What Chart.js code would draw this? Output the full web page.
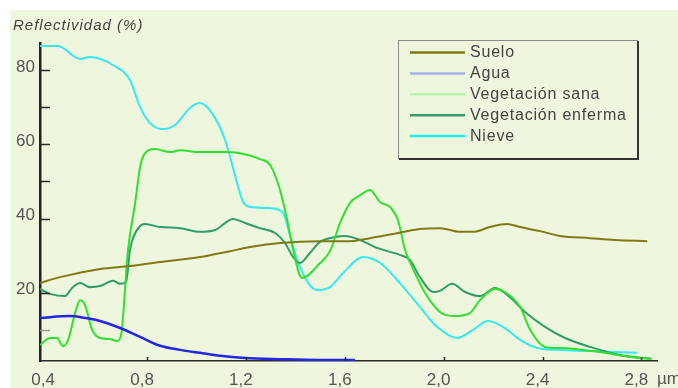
<!DOCTYPE html>
<html lang="es">
<head>
<meta charset="UTF-8">
<title>Reflectividad espectral</title>
<script src="https://cdn.jsdelivr.net/npm/chart.js"></script>
<style>
    body { margin: 0; background: #ffffff; }
    #wrap { width: 678px; height: 388px; }
</style>
</head>
<body>
<div id="wrap"><canvas id="chart" width="678" height="388"></canvas></div>
<script>
// Ticks
const xTicks = [0.4, 0.8, 1.2, 1.6, 2.0, 2.4, 2.8];
const yTicks = [20, 40, 60, 80];
const yMinorTicks = [50, 70];

// Series (wavelength in um, reflectance in %)
const seriesNames = ['Suelo', 'Agua', 'Vegetación sana', 'Vegetación enferma', 'Nieve'];

const sueloX = [0.367, 0.448, 0.610, 0.731, 0.853, 1.014, 1.136, 1.217, 1.338, 1.500, 1.621, 1.702, 1.795, 1.904, 1.985, 2.066, 2.119, 2.187, 2.256, 2.309, 2.390, 2.471, 2.592, 2.693, 2.823];
const sueloY = [22.6, 24.2, 26.4, 27.2, 28.3, 29.6, 31.2, 32.3, 33.4, 33.9, 33.9, 34.7, 35.8, 37.2, 37.4, 36.4, 36.4, 37.7, 38.5, 37.7, 36.6, 35.3, 34.7, 34.2, 33.9];

const aguaX = [0.367, 0.489, 0.549, 0.610, 0.691, 0.772, 0.853, 0.934, 1.014, 1.095, 1.196, 1.338, 1.500, 1.641];
const aguaY = [13.2, 13.7, 13.2, 12.4, 10.5, 8.1, 5.7, 4.6, 3.8, 3.0, 2.4, 2.1, 1.9, 1.9];

const sanaX = [0.367, 0.408, 0.436, 0.460, 0.481, 0.509, 0.529, 0.549, 0.578, 0.610, 0.650, 0.679, 0.695, 0.723, 0.752, 0.772, 0.792, 0.832, 0.893, 0.934, 1.014, 1.116, 1.176, 1.257, 1.298, 1.338, 1.367, 1.391, 1.427, 1.500, 1.540, 1.581, 1.621, 1.662, 1.702, 1.743, 1.783, 1.815, 1.844, 1.884, 1.925, 1.985, 2.046, 2.106, 2.147, 2.208, 2.248, 2.309, 2.350, 2.410, 2.471, 2.633, 2.754, 2.843];
const sanaY = [5.9, 7.8, 7.8, 5.6, 7.3, 14.5, 18.0, 16.7, 10.0, 7.8, 7.5, 7.0, 8.6, 31.5, 44.2, 53.9, 57.6, 58.7, 57.9, 58.4, 57.9, 57.9, 57.6, 56.0, 54.4, 47.7, 39.6, 31.5, 24.0, 28.0, 31.2, 38.8, 44.2, 46.3, 47.7, 44.4, 43.1, 39.6, 31.5, 25.3, 19.9, 14.8, 13.7, 14.5, 18.0, 21.0, 20.2, 16.2, 10.0, 5.4, 5.1, 4.0, 2.7, 2.2];

const enfermaX = [0.367, 0.408, 0.468, 0.497, 0.529, 0.569, 0.610, 0.663, 0.691, 0.715, 0.731, 0.743, 0.772, 0.792, 0.853, 0.934, 1.014, 1.075, 1.148, 1.197, 1.257, 1.318, 1.358, 1.391, 1.419, 1.459, 1.500, 1.561, 1.601, 1.662, 1.722, 1.783, 1.823, 1.864, 1.904, 1.957, 1.985, 2.034, 2.087, 2.147, 2.208, 2.268, 2.329, 2.410, 2.491, 2.592, 2.713, 2.835];
const enfermaY = [21.0, 19.7, 19.1, 21.3, 22.6, 21.5, 21.8, 23.2, 22.4, 22.9, 31.5, 34.7, 38.0, 38.5, 37.7, 37.4, 36.4, 36.9, 39.9, 38.8, 37.4, 36.1, 33.4, 29.6, 28.0, 30.7, 33.7, 35.0, 35.3, 34.2, 32.3, 31.0, 30.2, 28.8, 24.2, 20.2, 20.5, 22.4, 20.2, 19.1, 21.3, 18.8, 14.8, 10.8, 7.8, 5.4, 3.2, 2.2];

const nieveX = [0.367, 0.440, 0.529, 0.569, 0.663, 0.731, 0.772, 0.812, 0.861, 0.913, 0.974, 1.014, 1.063, 1.116, 1.161, 1.185, 1.217, 1.298, 1.350, 1.378, 1.407, 1.419, 1.452, 1.489, 1.540, 1.593, 1.674, 1.743, 1.823, 1.904, 1.973, 2.054, 2.119, 2.179, 2.240, 2.309, 2.378, 2.459, 2.592, 2.782];
const nieveY = [86.5, 86.5, 83.0, 83.5, 81.3, 77.3, 70.0, 65.7, 64.1, 65.2, 69.8, 71.1, 68.4, 61.1, 50.4, 45.0, 43.1, 42.8, 41.5, 35.6, 28.8, 26.9, 22.6, 20.7, 21.5, 25.3, 29.6, 28.0, 22.6, 16.2, 10.8, 7.8, 10.0, 12.4, 10.8, 7.3, 5.1, 4.6, 4.3, 3.8];

const lineColors = ['#7f7a12', '#2626e6', '#2fe02f', '#2f9d68', '#36e8f2'];
const legendColors = ['#7f7a10', '#aab2e8', '#b6f5ab', '#3a9a6a', '#22eef2'];

function pts(xs, ys) { return xs.map((x, i) => ({ x: x, y: ys[i] })); }
const seriesData = [pts(sueloX, sueloY), pts(aguaX, aguaY), pts(sanaX, sanaY), pts(enfermaX, enfermaY), pts(nieveX, nieveY)];

const FONT = "'Liberation Sans', Arial, sans-serif";
const BG = '#eff6de';

const decor = {
    id: 'decor',
    beforeDraw(chart) {
        const ctx = chart.ctx;
        ctx.save();
        ctx.fillStyle = '#ffffff';
        ctx.fillRect(0, 0, chart.width, chart.height);
        ctx.fillStyle = BG;
        ctx.fillRect(10, 10, chart.width - 10, chart.height - 10);
        ctx.restore();
    },
    afterDraw(chart) {
        const ctx = chart.ctx;
        const xs = chart.scales.x, ys = chart.scales.y;
        const area = chart.chartArea;
        ctx.save();
        // inward ticks
        ctx.strokeStyle = '#2a2a2a';
        ctx.lineWidth = 1.5;
        yTicks.concat(yMinorTicks).forEach(v => {
            const py = Math.round(ys.getPixelForValue(v)) + 0.5;
            ctx.beginPath(); ctx.moveTo(area.left, py); ctx.lineTo(area.left + 10, py); ctx.stroke();
        });
        ctx.strokeStyle = '#999999';
        const p10 = Math.round(ys.getPixelForValue(10)) + 0.5;
        ctx.beginPath(); ctx.moveTo(area.left, p10); ctx.lineTo(area.left + 10, p10); ctx.stroke();
        ctx.strokeStyle = '#2a2a2a';
        xTicks.slice(1).forEach(v => {
            const px = Math.round(xs.getPixelForValue(v)) + 0.5;
            ctx.beginPath(); ctx.moveTo(px, area.bottom); ctx.lineTo(px, area.bottom - 4); ctx.stroke();
        });
        // axis titles
        ctx.fillStyle = '#444444';
        ctx.font = 'italic 15px ' + FONT;
        ctx.letterSpacing = '1px';
        ctx.textBaseline = 'alphabetic';
        ctx.textAlign = 'left';
        ctx.fillText('Reflectividad (%)', 13, 30);
        ctx.font = '17px ' + FONT;
        ctx.letterSpacing = '0px';
        ctx.fillStyle = '#555555';
        ctx.textBaseline = 'middle';
        ctx.fillText('\u00b5m', 657, 379);

        // legend box
        const bx = 398, by = 40, bw = 239, bh = 118;
        ctx.fillStyle = BG;
        ctx.fillRect(bx, by, bw, bh);
        ctx.strokeStyle = '#8a8a8a';
        ctx.lineWidth = 1;
        ctx.strokeRect(bx + 0.5, by + 0.5, bw, bh);
        ctx.strokeStyle = '#333333';
        ctx.lineWidth = 2;
        ctx.beginPath();
        ctx.moveTo(bx + bw + 1, by + 1); ctx.lineTo(bx + bw + 1, by + bh + 1); ctx.lineTo(bx + 1, by + bh + 1);
        ctx.stroke();
        ctx.font = '16px ' + FONT;
        ctx.letterSpacing = '0.8px';
        ctx.textBaseline = 'middle';
        chart.data.datasets.forEach((ds, i) => {
            const ry = 52.5 + i * 20.9;
            ctx.strokeStyle = legendColors[i];
            ctx.lineWidth = 2.5;
            ctx.beginPath(); ctx.moveTo(410, ry); ctx.lineTo(465, ry); ctx.stroke();
            ctx.fillStyle = '#444444';
            ctx.fillText(ds.label, 470, ry);
        });
        ctx.restore();
    }
};

new Chart(document.getElementById('chart'), {
    type: 'line',
    data: {
        datasets: seriesNames.map((name, i) => ({
            label: name,
            data: seriesData[i],
            borderColor: lineColors[i],
            borderWidth: i === 1 ? 2.5 : 2,
            pointRadius: 0,
            fill: false,
            cubicInterpolationMode: 'monotone'
        }))
    },
    options: {
        responsive: false,
        animation: false,
        layout: { padding: { top: 43, right: 21, left: 0, bottom: 0 } },
        plugins: {
            legend: { display: false },
            tooltip: { enabled: false }
        },
        scales: {
            x: {
                type: 'linear',
                min: 0.367,
                max: 2.863,
                afterBuildTicks: s => { s.ticks = xTicks.map(v => ({ value: v })); },
                afterFit: s => { s.height = 27; },
                grid: { display: false, drawTicks: false },
                border: { display: true, color: '#2a2a2a', width: 1.5 },
                ticks: {
                    padding: 9,
                    labelOffset: -5,
                    color: '#555555',
                    font: { family: FONT, size: 17 },
                    maxRotation: 0,
                    autoSkip: false,
                    callback: v => v.toFixed(1).replace('.', ',')
                }
            },
            y: {
                min: 1.6,
                max: 87.3,
                afterBuildTicks: s => { s.ticks = yTicks.map(v => ({ value: v })); },
                afterFit: s => { s.width = 40; },
                grid: { display: false, drawTicks: false },
                border: { display: true, color: '#222222', width: 2.5 },
                ticks: {
                    padding: 5,
                    labelOffset: -3,
                    color: '#555555',
                    font: { family: FONT, size: 17 }
                }
            }
        }
    },
    plugins: [decor]
});
</script>
</body>
</html>
